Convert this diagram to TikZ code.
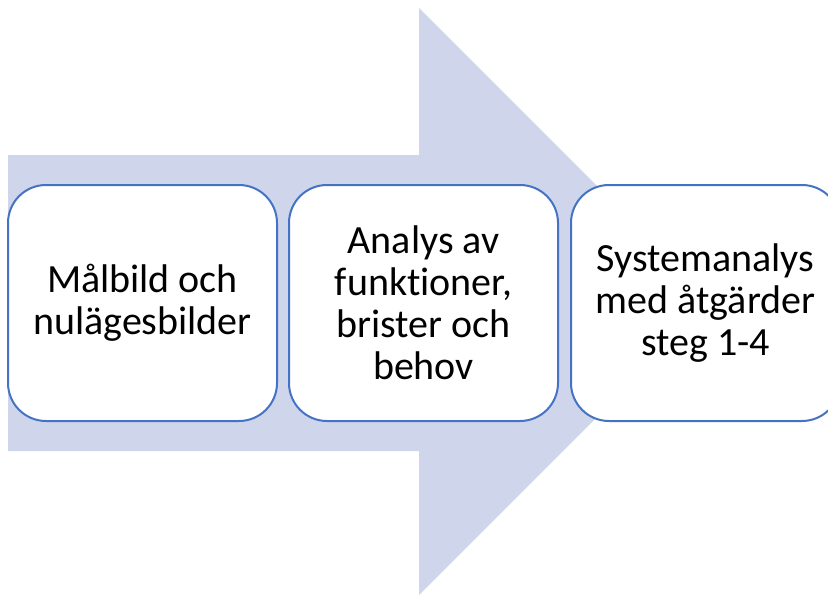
\documentclass[tikz,border=0pt]{standalone}
\usepackage{fontspec}
\setmainfont{Carlito}[Ligatures=NoCommon]
\definecolor{arrowfill}{HTML}{CFD5EA}
\definecolor{boxline}{HTML}{4472C4}
\begin{document}
\begin{tikzpicture}[x=1pt,y=-1pt,
  stagebox/.style={draw=boxline,line width=2pt,fill=white,rounded corners=38pt,
    minimum width=269pt,minimum height=236pt,inner sep=0pt,align=center,
    font=\fontsize{40}{42}\selectfont}]
\useasboundingbox (0,0) rectangle (828,595);
\clip (0,0) rectangle (828,595);
\fill[arrowfill] (8,155) -- (419,155) -- (419,8) -- (712.5,301.5) -- (419,595) -- (419,451) -- (8,451) -- cycle;
\node[stagebox] (b1) at (142.5,303) {Målbild och\\nulägesbilder};
\node[stagebox] (b2) at (423.5,303) {Analys av\\funktioner,\\brister och\\behov};
\node[stagebox] (b3) at (705.5,303) {Systemanalys\\med åtgärder\\steg 1-4};
\end{tikzpicture}
\end{document}
